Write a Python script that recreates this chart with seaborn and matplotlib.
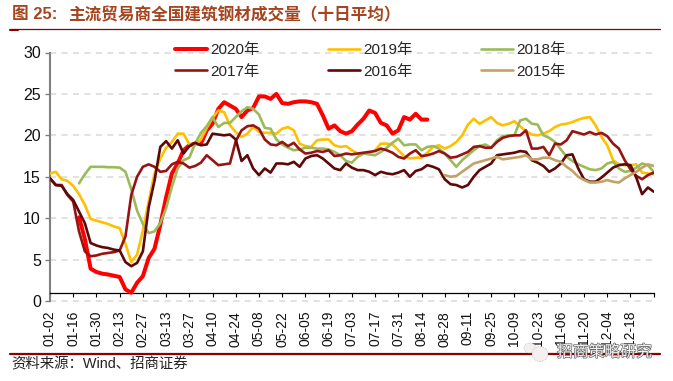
import matplotlib
matplotlib.use('Agg')
import matplotlib.pyplot as plt
import matplotlib.patheffects as pe
from matplotlib.patches import Ellipse
import numpy as np
import pandas as pd
import seaborn as sns

sns.set_theme(style='white')
plt.rcParams['font.family'] = ['Liberation Sans', 'Noto Sans CJK SC']

# eixo x: dias contados a partir de 01-02, um ponto a cada 3.5 dias
tick_labels = ['01-02', '01-16', '01-30', '02-13', '02-27', '03-13', '03-27', '04-10', '04-24',
               '05-08', '05-22', '06-05', '06-19', '07-03', '07-17', '07-31', '08-14', '08-28',
               '09-11', '09-25', '10-09', '10-23', '11-06', '11-20', '12-04', '12-18']

y2020 = [10.1, 7.5, 3.9, 3.5, 3.3, 3.2, 3.05, 2.9, 1.4, 1.0,
         2.2, 3.0, 5.2, 6.3, 9.2, 12.5, 15.4, 16.6, 18.2, 18.8,
         19, 19, 20.6, 21.4, 23.2, 24, 23.6, 23.2, 22.2, 23,
         23.3, 24.7, 24.7, 24.4, 25, 23.9, 23.8, 24, 24.1, 24.1,
         24, 23.8, 22.4, 20.8, 21.2, 20.5, 20.2, 20.5, 21.3, 22,
         23, 22.7, 21.5, 21.2, 20.2, 20.6, 22.2, 21.9, 22.6, 21.9,
         21.9]
y2019 = [15.4, 15.6, 14.7, 14.5, 13.9, 12.9, 11.6, 9.9, 9.7, 9.5,
         9.3, 9.0, 8.8, 6.9, 4.7, 5.6, 8.5, 12, 15.4, 17.2,
         18.5, 19.2, 20.2, 20.2, 18.9, 18.8, 19.5, 20.9, 22.1, 23,
         22.8, 21.2, 20.4, 19.8, 20.2, 21, 20.4, 20.3, 20.3, 20.2,
         20.8, 21, 20.6, 19, 18.7, 18.6, 19.4, 19.5, 19.5, 18.8,
         18.6, 18.7, 18.2, 17.8, 17.8, 17.9, 18.2, 19, 19, 18.9,
         18.2, 17.5, 17.2, 17.3, 17.3, 17.9, 18.6, 18.8, 18.4, 18.7,
         19.2, 20, 21.3, 22, 21.4, 21.8, 22.2, 21.5, 21.2, 21.4,
         21.7, 21.1, 20.5, 20.1, 20, 20.2, 20.5, 21, 21.3, 21.4,
         21.6, 21.9, 22.1, 22.2, 21.2, 19.8, 18.8, 17, 16.5, 16.4,
         16.4, 16.5, 15.5, 15.4, 15.3]
y2018 = [14.2, 15.3, 16.2, 16.2, 16.2, 16.15, 16.15, 16.1, 15.6, 13.5,
         10.9, 9.3, 8.2, 8.4, 9.4, 11.2, 13.8, 16, 17, 17.3,
         19, 20.3, 21.1, 22.2, 21, 21.5, 21.5, 22.2, 22.9, 23.4,
         23.2, 22.5, 20.9, 20.8, 19.5, 18.9, 18.5, 18.2, 18.3, 18.5,
         18.5, 18.4, 18.4, 18.3, 18, 17.6, 16.9, 16.7, 17.4, 17.8,
         17.7, 17.6, 18, 18.5, 19.1, 19.6, 18.8, 18.9, 18.9, 18.2,
         18.6, 18.7, 18.4, 17.8, 17, 16.2, 17, 17.6, 18.2, 18.7,
         18.9, 18.5, 19.4, 19.9, 20, 20, 21.8, 22, 21.4, 21.3,
         20, 19.7, 19.2, 18.3, 17.4, 16.9, 16.5, 16.2, 15.9, 15.8,
         16, 16.6, 16.8, 16, 15.6, 15.7, 16.1, 16.6, 16.4, 15.6]
y2017 = [14.8, 14, 14, 12.8, 12, 8.4, 6, 5.4, 5.5, 5.7,
         5.8, 5.9, 6.1, 7.8, 12.8, 15, 16.2, 16.5, 16.2, 15.6,
         15.7, 16.5, 16.8, 16.6, 16.1, 16.3, 16.7, 17.6, 17, 16.4,
         16.5, 16.6, 19.3, 20.6, 21.1, 21.2, 20.8, 19.5, 18.9, 18.8,
         19.2, 18.7, 19.1, 18.3, 17.8, 17.9, 18.1, 18, 18.2, 17.5,
         17.6, 17.8, 17.7, 17.8, 17.9, 18, 18.1, 18.4, 18.2, 17.9,
         17.4, 17.2, 17.8, 18.2, 17.5, 17.6, 17.8, 18.1, 17.8, 17.3,
         17.4, 17.7, 18, 18.6, 18.7, 18.5, 18.5, 19.2, 19.7, 19.9,
         20, 20, 20.6, 18.4, 18.4, 18.6, 17.6, 19, 18.9, 19.4,
         20.5, 20.3, 20.1, 20.4, 20.1, 20.3, 19.9, 19, 18.4, 17,
         15.9, 15.1, 14.7, 15.2, 15.5]
y2016 = [14.8, 14, 13.9, 12.9, 12.2, 10.8, 9.4, 7, 6.7, 6.5,
         6.4, 6.2, 6.1, 4.7, 4.2, 4.6, 6, 11.3, 14.5, 18.6,
         19.3, 18.4, 19.4, 17.8, 18.7, 19.1, 18.8, 18.9, 20.2, 20.1,
         20, 20.1, 19.5, 16.9, 17.6, 16, 15.2, 16, 15.5, 16.6,
         16.6, 16.5, 16.8, 16.2, 17.2, 17.5, 17.6, 17.2, 16.6, 16,
         15.8, 16.6, 16.1, 15.8, 15.8, 15.6, 15.2, 15.6, 15.4, 15.3,
         15.5, 15.8, 15, 15.7, 15.9, 16.4, 16.2, 15.9, 14.7, 14.1,
         14, 13.7, 14, 15, 15.8, 16.2, 16.6, 17.6, 17.7, 17.8,
         17.9, 18.1, 18, 17, 16.7, 16.3, 15.6, 16, 16.6, 17.6,
         17.7, 16, 14.7, 14.4, 14.4, 14.9, 15.5, 16.1, 16.4, 16.5,
         16.4, 14.9, 12.9, 13.7, 13.2]
y2015 = [15.2, 15, 15.1, 15.6, 16.1, 16.6, 16.8, 17, 17.2, 17.4,
         17.1, 17.2, 17.3, 17.4, 17.6, 17.1, 17.1, 17.3, 17.3, 17,
         16.8, 16.2, 15.7, 15, 14.6, 14.3, 14.3, 14.4, 14.6, 14.4,
         14.3, 14.8, 15.2, 15.6, 16.1, 16.5, 16.3]

inicio = {'2020年': 5, '2019年': 0, '2018年': 5, '2017年': 0, '2016年': 0, '2015年': 68}
valores = {'2020年': y2020, '2019年': y2019, '2018年': y2018, '2017年': y2017, '2016年': y2016, '2015年': y2015}
cores = {'2020年': '#FF0000', '2019年': '#FFC000', '2018年': '#9BBB59',
         '2017年': '#961414', '2016年': '#5E0808', '2015年': '#C4A265'}
larguras = {'2020年': 2.9, '2019年': 1.9, '2018年': 1.9, '2017年': 1.9, '2016年': 1.9, '2015年': 1.9}

linhas = []
for nome, v in valores.items():
    dias = (inicio[nome] + np.arange(len(v))) * 3.5
    linhas.append(pd.DataFrame({'dia': dias, 'valor': v, 'ano': nome}))
df = pd.concat(linhas)

W, H = 673, 381
fig = plt.figure(figsize=(W / 100, H / 100), dpi=100)
ax = fig.add_axes([50 / W, 1 - 301 / H, 603.7 / W, 248.5 / H])

for nome in valores:
    sns.lineplot(data=df[df['ano'] == nome], x='dia', y='valor', color=cores[nome], lw=larguras[nome],
                 estimator=None, sort=False, ax=ax, label=nome, zorder=3, solid_capstyle='round')

ax.set_xlim(0, 364)
ax.set_ylim(0, 30)
ax.set_xlabel('')
ax.set_ylabel('')

# grade tracejada
ax.set_yticks(range(0, 31, 5))
ax.grid(False)
for v in range(0, 31, 5):
    ax.plot([0, 364], [v, v], color='#D9D9D9', lw=1.1, dashes=(4, 3.5), zorder=1, clip_on=False)

ax.set_xticks(np.arange(0, 365, 14))
ax.set_xticklabels(tick_labels + [''])
ax.tick_params(axis='x', direction='out', length=3, width=0.8, color='black', pad=10, labelsize=10,
               labelcolor='#111111', bottom=True, labelrotation=90)
ax.tick_params(axis='y', direction='out', length=3.5, width=1, color='#808080', pad=3, labelsize=11.5,
               labelcolor='#111111', left=True)

for s in ['top', 'right']:
    ax.spines[s].set_visible(False)
ax.spines['bottom'].set_position(('data', 1))
ax.spines['bottom'].set_color('black')
ax.spines['bottom'].set_linewidth(0.9)
ax.spines['left'].set_color('#808080')
ax.spines['left'].set_linewidth(1.5)

# legenda em 3 colunas, ordem por coluna
h, l = ax.get_legend_handles_labels()
ordem = [0, 3, 1, 4, 2, 5]
ax.legend([h[i] for i in ordem], [l[i] for i in ordem], ncol=3, frameon=False, fontsize=11,
          handlelength=2.1, handletextpad=0.2, columnspacing=4.5, labelspacing=0.5,
          loc='upper left', bbox_to_anchor=(175 / W, 1 - 43 / H), bbox_transform=fig.transFigure,
          borderpad=0, borderaxespad=0)

# titulo e fonte
fig.text(12 / W, 1 - 15 / H, '图 25:', color='#A5451F', fontsize=12, fontweight='bold', va='center', ha='left')
fig.text(68 / W, 1 - 15 / H, '主流贸易商全国建筑钢材成交量（十日平均）', color='#A5451F', fontsize=12,
         fontweight='bold', va='center', ha='left')
fig.add_artist(plt.Line2D([10 / W, 660 / W], [1 - 28.5 / H] * 2, color='#8B0000', lw=0.9))
fig.add_artist(plt.Line2D([10 / W, 18 / W], [1 - 29.5 / H] * 2, color='#8B0000', lw=1.5))
fig.add_artist(plt.Line2D([10 / W, 660 / W], [1 - 353.5 / H] * 2, color='#8B0000', lw=1.6))
fig.text(11 / W, 1 - 364.5 / H, '资料来源：Wind、招商证券', color='#222222', fontsize=10.4, va='center', ha='left')

# marca d'agua
for cx, cy, w, hh in [(530, 348, 12, 10), (540, 354, 16, 15)]:
    fig.add_artist(Ellipse((cx / W, 1 - cy / H), w / W, hh / H, transform=fig.transFigure, facecolor='#F4F0F0',
                           edgecolor='#AAAAAA', lw=0.5, ls=':', zorder=5))
fig.text(557 / W, 1 - 352 / H, '招商策略研究', color='#F2F2F2', fontsize=11.4, va='center', ha='left', zorder=6,
         path_effects=[pe.withStroke(linewidth=1.0, foreground='#666666')])

fig.savefig('out.png', dpi=100)
